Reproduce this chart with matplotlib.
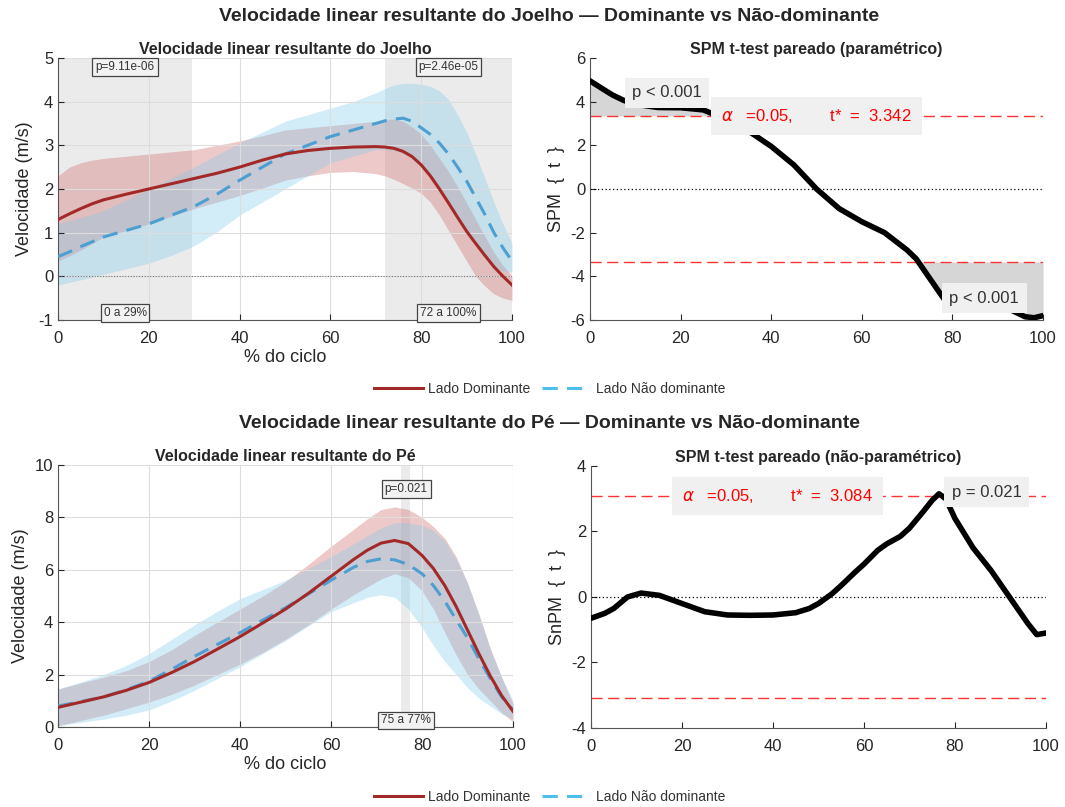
import numpy as np
import matplotlib.pyplot as plt
from matplotlib.lines import Line2D

plt.rcParams['font.family'] = ['Liberation Sans', 'DejaVu Sans']
plt.rcParams['axes.unicode_minus'] = False

# ---- joelho (knee) ----
x_knee = [0, 2.5, 5, 7.5, 10, 15, 20, 25, 30, 35, 40, 45, 50, 55, 60, 65, 70, 72, 74, 76, 78, 80, 82, 84, 86, 88, 90, 92, 94, 96, 98, 100]
knee_dom = [1.3, 1.43, 1.55, 1.66, 1.75, 1.88, 2.0, 2.12, 2.24, 2.36, 2.5, 2.66, 2.8, 2.88, 2.93, 2.96, 2.97, 2.96, 2.93, 2.86, 2.74, 2.55, 2.3, 2.0, 1.68, 1.35, 1.03, 0.75, 0.48, 0.22, 0.0, -0.2]
knee_dom_hi = [2.3, 2.5, 2.6, 2.66, 2.7, 2.75, 2.8, 2.85, 2.9, 3.0, 3.1, 3.22, 3.35, 3.4, 3.45, 3.5, 3.55, 3.58, 3.6, 3.55, 3.42, 3.25, 3.0, 2.7, 2.4, 2.05, 1.68, 1.3, 0.92, 0.55, 0.25, 0.0]
knee_dom_lo = [0.35, 0.47, 0.6, 0.75, 0.9, 1.05, 1.2, 1.38, 1.55, 1.7, 1.85, 2.02, 2.2, 2.3, 2.38, 2.4, 2.35, 2.3, 2.22, 2.12, 2.02, 1.9, 1.7, 1.4, 1.05, 0.7, 0.35, 0.0, -0.22, -0.4, -0.5, -0.55]
knee_nd = [0.45, 0.56, 0.68, 0.79, 0.9, 1.05, 1.2, 1.4, 1.6, 1.88, 2.2, 2.5, 2.8, 3.0, 3.2, 3.35, 3.5, 3.56, 3.6, 3.62, 3.55, 3.4, 3.25, 3.05, 2.8, 2.5, 2.18, 1.8, 1.42, 1.0, 0.65, 0.35]
knee_nd_hi = [1.2, 1.28, 1.35, 1.42, 1.5, 1.75, 2.0, 2.25, 2.5, 2.78, 3.05, 3.3, 3.55, 3.7, 3.85, 4.0, 4.2, 4.3, 4.38, 4.42, 4.42, 4.4, 4.35, 4.25, 4.05, 3.7, 3.3, 2.8, 2.25, 1.7, 1.2, 0.75]
knee_nd_lo = [-0.2, -0.14, -0.08, -0.02, 0.05, 0.17, 0.3, 0.48, 0.7, 1.02, 1.4, 1.7, 2.0, 2.3, 2.6, 2.75, 2.9, 2.9, 2.88, 2.82, 2.7, 2.5, 2.3, 2.05, 1.72, 1.35, 1.0, 0.7, 0.45, 0.22, 0.12, 0.1]

knee_t = [4.95, 4.62, 4.3, 4.05, 3.88, 3.73, 3.72, 3.62, 3.2, 2.65, 1.95, 1.1, 0.0, -0.9, -1.5, -2.0, -2.8, -3.2, -3.8, -4.4, -5.0, -5.5, -5.5, -5.35, -5.2, -5.2, -5.3, -5.45, -5.65, -5.85, -5.9, -5.8]
knee_thr = 3.342
knee_clusters = [(0, 29.5, 'p=9.11e-06', '0 a 29%'), (72, 100, 'p=2.46e-05', '72 a 100%')]

# ---- pé (foot) ----
x_foot = [0, 5, 10, 15, 20, 25, 30, 35, 40, 45, 50, 55, 60, 65, 68, 71, 74, 77, 80, 82.5, 85, 87.5, 90, 92.5, 95, 97.5, 100]
foot_dom = [0.75, 0.95, 1.15, 1.4, 1.7, 2.08, 2.5, 2.97, 3.45, 3.97, 4.5, 5.1, 5.75, 6.4, 6.75, 7.02, 7.12, 7.0, 6.55, 6.05, 5.4, 4.6, 3.7, 2.8, 1.95, 1.2, 0.6]
foot_dom_hi = [1.45, 1.68, 1.9, 2.15, 2.5, 2.95, 3.5, 4.0, 4.5, 5.0, 5.55, 6.2, 6.9, 7.55, 7.95, 8.3, 8.4, 8.3, 8.0, 7.65, 7.2, 6.5, 5.5, 4.3, 3.0, 1.9, 0.9]
foot_dom_lo = [0.05, 0.25, 0.45, 0.7, 0.95, 1.25, 1.6, 2.0, 2.4, 2.85, 3.35, 3.9, 4.5, 5.05, 5.35, 5.65, 5.85, 5.7, 5.2, 4.5, 3.6, 2.75, 2.0, 1.45, 1.0, 0.55, 0.2]
foot_nd = [0.8, 0.97, 1.15, 1.42, 1.75, 2.2, 2.7, 3.15, 3.6, 4.08, 4.55, 5.08, 5.6, 6.1, 6.32, 6.42, 6.38, 6.2, 5.85, 5.4, 4.8, 4.1, 3.4, 2.6, 1.85, 1.15, 0.65]
foot_nd_hi = [1.45, 1.72, 2.0, 2.35, 2.8, 3.35, 3.9, 4.42, 4.9, 5.25, 5.6, 6.05, 6.5, 7.0, 7.3, 7.6, 7.8, 7.8, 7.7, 7.5, 7.1, 6.4, 5.5, 4.3, 3.0, 1.9, 1.0]
foot_nd_lo = [0.05, 0.18, 0.3, 0.45, 0.65, 1.0, 1.4, 1.85, 2.3, 2.8, 3.3, 3.85, 4.4, 4.75, 4.95, 5.05, 4.95, 4.5, 3.8, 3.1, 2.5, 2.0, 1.5, 1.1, 0.8, 0.5, 0.3]

x_snpm = [0, 3, 5, 8, 11, 15, 20, 25, 30, 35, 40, 45, 48, 50, 53, 55, 58, 60, 63, 65, 68, 70, 73, 75, 76.5, 78, 80, 84, 88, 92, 96, 98, 100]
foot_t = [-0.65, -0.5, -0.35, 0.0, 0.12, 0.05, -0.2, -0.45, -0.55, -0.56, -0.55, -0.48, -0.35, -0.2, 0.1, 0.35, 0.75, 1.0, 1.42, 1.62, 1.85, 2.1, 2.6, 2.95, 3.15, 3.0, 2.4, 1.5, 0.8, 0.0, -0.8, -1.15, -1.1]
foot_thr = 3.084
foot_clusters = [(75.3, 77.3, 'p=0.021', '75 a 77%')]

RED = (0.64, 0.16, 0.16)
RED_BAND = (0.82, 0.45, 0.45)
BLUE_LINE = (0.30, 0.62, 0.82)
BLUE_LEG = (0.30, 0.75, 0.93)
BLUE_BAND = (0.50, 0.80, 0.93)
SHADE = '#ebebeb'
TXT = '#333333'

fig = plt.figure(figsize=(10.65, 8.07), dpi=100)


def style(ax):
    for s in ['top', 'right']:
        ax.spines[s].set_visible(False)
    for s in ['left', 'bottom']:
        ax.spines[s].set_color('#555555')
    ax.tick_params(direction='in', labelsize=12, colors='#262626', length=4)
    ax.tick_params(axis='x', pad=8)


def mean_panel(ax, x, dom, dlo, dhi, nd, nlo, nhi, clusters, ylim, yticks, title):
    for a, b, ptxt, rtxt in clusters:
        ax.axvspan(a, b, color=SHADE, zorder=0, lw=0)
    ax.grid(True, color='#dddddd', lw=0.8, zorder=0.5)
    ax.fill_between(x, dlo, dhi, color=RED_BAND, alpha=0.38, lw=0, zorder=1)
    ax.fill_between(x, nlo, nhi, color=BLUE_BAND, alpha=0.35, lw=0, zorder=1)
    ax.plot(x, nd, '--', color=BLUE_LINE, lw=2.2, dashes=(5, 3), zorder=3)
    ax.plot(x, dom, '-', color=RED, lw=2.2, zorder=4)
    ax.axhline(0, color='#777777', lw=0.8, ls=(0, (1, 1.5)), zorder=2)
    ax.set_xlim(0, 100)
    ax.set_ylim(*ylim)
    ax.set_yticks(yticks)
    ax.set_xticks([0, 20, 40, 60, 80, 100])
    box = dict(boxstyle='square,pad=0.25', fc='#f2f2f2', ec='#444444', lw=0.9)
    for a, b, ptxt, rtxt in clusters:
        c = (a + b) / 2
        ax.text(c, ylim[1] - 0.035 * (ylim[1] - ylim[0]), ptxt, ha='center', va='center',
                fontsize=8.5, color=TXT, bbox=box, zorder=6)
        ax.text(c, ylim[0] + 0.025 * (ylim[1] - ylim[0]), rtxt, ha='center', va='center',
                fontsize=8.5, color=TXT, bbox=box, zorder=6)
    ax.set_title(title, fontsize=11.5, fontweight='bold', color='#262626', pad=3)
    ax.set_xlabel('% do ciclo', fontsize=13, color='#262626', labelpad=2)
    ax.set_ylabel('Velocidade (m/s)', fontsize=13, color='#262626')
    style(ax)


def spm_panel(ax, x, t, thr, ylim, yticks, title, ylabel, fill):
    t = np.array(t)
    if fill:
        ax.fill_between(x, t, thr, where=t > thr, interpolate=True, color='#d6d6d6', lw=0, zorder=1)
        ax.fill_between(x, t, -thr, where=t < -thr, interpolate=True, color='#d6d6d6', lw=0, zorder=1)
    ax.axhline(thr, color='#ff3333', lw=1.0, dashes=(8, 4), zorder=2)
    ax.axhline(-thr, color='#ff3333', lw=1.0, dashes=(8, 4), zorder=2)
    ax.axhline(0, color='black', lw=0.9, ls=(0, (1, 2)), zorder=2)
    ax.plot(x, t, color='black', lw=4, zorder=3, solid_capstyle='round', solid_joinstyle='round')
    ax.set_xlim(0, 100)
    ax.set_ylim(*ylim)
    ax.set_yticks(yticks)
    ax.set_xticks([0, 20, 40, 60, 80, 100])
    ax.set_title(title, fontsize=11.5, fontweight='bold', color='#262626', pad=3)
    ax.set_ylabel(ylabel, fontsize=13, color='#262626')
    style(ax)


gbox = dict(boxstyle='square,pad=0.45', fc='#f0f0f0', ec='none')

# top row
ax1 = fig.add_axes([0.0545, 0.6035, 0.4263, 0.3247])
mean_panel(ax1, x_knee, knee_dom, knee_dom_lo, knee_dom_hi, knee_nd, knee_nd_lo, knee_nd_hi,
           knee_clusters, (-1, 5), range(-1, 6), 'Velocidade linear resultante do Joelho')

ax2 = fig.add_axes([0.554, 0.6035, 0.4254, 0.3247])
spm_panel(ax2, x_knee, knee_t, knee_thr, (-6, 6), range(-6, 7, 2),
          'SPM t-test pareado (paramétrico)', 'SPM  {  t  }', True)
ax2.text(17, 4.4, 'p < 0.001', ha='center', va='center', fontsize=12, color=TXT, bbox=gbox, zorder=5)
ax2.text(87, -5.0, 'p < 0.001', ha='center', va='center', fontsize=12, color=TXT, bbox=gbox, zorder=5)
ax2.text(50, knee_thr, r'$\alpha$   =0.05,        t*  =  %.3f' % knee_thr, ha='center', va='center',
         fontsize=12, color='red', bbox=dict(boxstyle='square,pad=0.6', fc='#f0f0f0', ec='none'), zorder=5)

# bottom row
ax3 = fig.add_axes([0.0545, 0.0991, 0.4272, 0.3247])
mean_panel(ax3, x_foot, foot_dom, foot_dom_lo, foot_dom_hi, foot_nd, foot_nd_lo, foot_nd_hi,
           foot_clusters, (0, 10), range(0, 11, 2), 'Velocidade linear resultante do Pé')
ax3.texts[0].set_position((76.5, 9.1))
ax3.texts[1].set_position((76.5, 0.25))

ax4 = fig.add_axes([0.555, 0.0979, 0.427, 0.3247])
spm_panel(ax4, x_snpm, foot_t, foot_thr, (-4, 4), range(-4, 5, 2),
          'SPM t-test pareado (não-paramétrico)', 'SnPM  {  t  }', False)
ax4.text(87, 3.2, 'p = 0.021', ha='center', va='center', fontsize=12, color=TXT, bbox=gbox, zorder=5)
ax4.text(41, foot_thr, r'$\alpha$   =0.05,        t*  =  %.3f' % foot_thr, ha='center', va='center',
         fontsize=12, color='red', bbox=dict(boxstyle='square,pad=0.6', fc='#f0f0f0', ec='none'), zorder=5)

fig.text(0.516, 0.979, 'Velocidade linear resultante do Joelho — Dominante vs Não-dominante',
         ha='center', va='center', fontsize=14, fontweight='bold', color='#262626')
fig.text(0.516, 0.475, 'Velocidade linear resultante do Pé — Dominante vs Não-dominante',
         ha='center', va='center', fontsize=14, fontweight='bold', color='#262626')

handles = [Line2D([], [], color=RED, lw=2.2),
           Line2D([], [], color=BLUE_LEG, lw=2.2, dashes=(5, 3))]
labels = ['Lado Dominante', 'Lado Não dominante']
for yy in (0.518, 0.0124):
    fig.legend(handles, labels, loc='center', bbox_to_anchor=(0.516, yy), ncol=2, frameon=False,
               fontsize=10, handlelength=3.5, columnspacing=0.8, handletextpad=0.4, labelcolor='#333333')

fig.savefig('out.png', dpi=100)
